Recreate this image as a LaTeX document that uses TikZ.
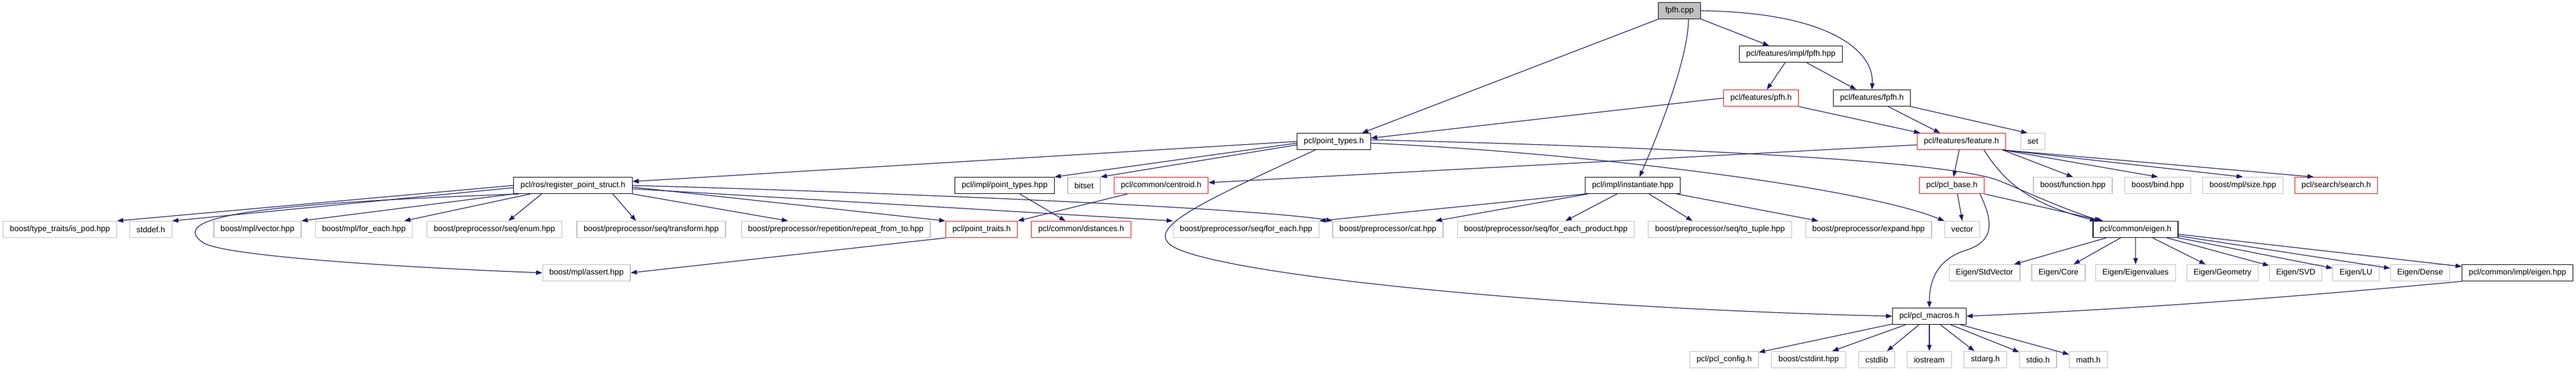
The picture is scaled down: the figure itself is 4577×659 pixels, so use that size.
\documentclass[tikz,border=0pt]{standalone}
\usepackage{fontspec}
\setmainfont{Liberation Sans}
\usetikzlibrary{arrows.meta}
\definecolor{midnight}{HTML}{191970}
\definecolor{grey75}{HTML}{BFBFBF}
\begin{document}
\begin{tikzpicture}[x=1pt,y=-1pt, font=\fontsize{14.2}{16}\selectfont, line join=round,
		box/.style={draw, fill=white, line width=1.2pt, inner xsep=12pt, inner ysep=0pt, minimum height=29pt},
		doc/.style={box, draw=black},
		ext/.style={box, draw=grey75},
		trunc/.style={box, draw=red},
		dep/.style={draw=midnight, line width=1.2pt, -{Triangle[length=11pt,width=8pt]}}]
		\useasboundingbox (0,0) rectangle (4577,659);
		% top rows
		\node (root) at (2984,19) [box, fill=grey75, draw=black] {fpfh.cpp};
		\node (fpfhimpl) at (3182,96) [doc] {pcl/features/impl/fpfh.hpp};
		\node (pfh) at (3129,174) [trunc] {pcl/features/pfh.h};
		\node (fpfh) at (3326,174) [doc] {pcl/features/fpfh.h};
		\node (pt) at (2370,251) [doc] {pcl/point\_types.h};
		\node (feature) at (3485,251) [trunc] {pcl/features/feature.h};
		\node (set) at (3612,251) [ext] {set};
		% row 4
		\node (reg) at (1018,329) [doc] {pcl/ros/register\_point\_struct.h};
		\node (ptimpl) at (1785,329) [doc] {pcl/impl/point\_types.hpp};
		\node (bitset) at (1926,329) [ext] {bitset};
		\node (centroid) at (2063,329) [trunc] {pcl/common/centroid.h};
		\node (inst) at (2901,329) [doc] {pcl/impl/instantiate.hpp};
		\node (base) at (3468,329) [trunc] {pcl/pcl\_base.h};
		\node (function) at (3683,329) [ext] {boost/function.hpp};
		\node (bind) at (3834,329) [ext] {boost/bind.hpp};
		\node (mplsize) at (3985,329) [ext] {boost/mpl/size.hpp};
		\node (search) at (4151,329) [trunc] {pcl/search/search.h};
		% row 5
		\node (ispod) at (106.5,407) [ext] {boost/type\_traits/is\_pod.hpp};
		\node (stddef) at (268,407) [ext] {stddef.h};
		\node (mplvec) at (457.5,407) [ext] {boost/mpl/vector.hpp};
		\node (mplfe) at (646.5,407) [ext] {boost/mpl/for\_each.hpp};
		\node (seqenum) at (878.5,407) [ext] {boost/preprocessor/seq/enum.hpp};
		\node (seqtrans) at (1157,407) [ext] {boost/preprocessor/seq/transform.hpp};
		\node (repeat) at (1485,407) [ext] {boost/preprocessor/repetition/repeat\_from\_to.hpp};
		\node (traits) at (1744,407) [trunc] {pcl/point\_traits.h};
		\node (dist) at (1921,407) [trunc] {pcl/common/distances.h};
		\node (seqfe) at (2214,407) [ext] {boost/preprocessor/seq/for\_each.hpp};
		\node (ppcat) at (2466,407) [ext] {boost/preprocessor/cat.hpp};
		\node (product) at (2746.5,407) [ext] {boost/preprocessor/seq/for\_each\_product.hpp};
		\node (totuple) at (3056,407) [ext] {boost/preprocessor/seq/to\_tuple.hpp};
		\node (expand) at (3320,407) [ext] {boost/preprocessor/expand.hpp};
		\node (vector) at (3486.5,407) [ext] {vector};
		\node (eigen) at (3794.5,407) [doc] {pcl/common/eigen.h};
		% row 6
		\node (mplassert) at (1042,484) [ext] {boost/mpl/assert.hpp};
		\node (stdvec) at (3526,484) [ext] {Eigen/StdVector};
		\node (core) at (3657.5,484) [ext] {Eigen/Core};
		\node (eigval) at (3794.5,484) [ext] {Eigen/Eigenvalues};
		\node (geom) at (3949,484) [ext] {Eigen/Geometry};
		\node (svd) at (4079,484) [ext] {Eigen/SVD};
		\node (lu) at (4186,484) [ext] {Eigen/LU};
		\node (dense) at (4300,484) [ext] {Eigen/Dense};
		\node (eigimpl) at (4473,484) [doc] {pcl/common/impl/eigen.hpp};
		% bottom rows
		\node (macros) at (3428,561) [doc] {pcl/pcl\_macros.h};
		\node (config) at (3063.5,638) [ext] {pcl/pcl\_config.h};
		\node (cstdint) at (3213.5,638) [ext] {boost/cstdint.hpp};
		\node (cstdlib) at (3334.5,638) [ext] {cstdlib};
		\node (iostream) at (3428,638) [ext] {iostream};
		\node (stdarg) at (3527.5,638) [ext] {stdarg.h};
		\node (stdio) at (3621,638) [ext] {stdio.h};
		\node (mathh) at (3710.5,638) [ext] {math.h};
		% fpfh.cpp
		\draw[dep] (root) -- (fpfhimpl);
		\draw[dep] (root.east) .. controls (3250,22) and (3330,90) .. (fpfh.north);
		\draw[dep] (root.south west) -- ([xshift=50pt]pt.north);
		\draw[dep] ([xshift=16pt]root.south) .. controls (3000,100) and (2950,230) .. ([xshift=12pt]inst.north);
		\draw[dep] (fpfhimpl) -- (pfh);
		\draw[dep] (fpfhimpl) -- (fpfh);
		\draw[dep] (pfh.west) -- ([yshift=6pt]pt.east);
		\draw[dep] (pfh.south east) -- ([xshift=6pt]feature.north west);
		\draw[dep] ([xshift=29pt]fpfh.south) -- ([xshift=-38pt]feature.north);
		\draw[dep] (fpfh.south east) -- ([xshift=-10pt]set.north);
		% point_types.h
		\draw[dep] (pt.west) -- ([yshift=7pt]reg.east);
		\draw[dep] ([yshift=-3pt]pt.west) -- (ptimpl.north east);
		\draw[dep] ([yshift=-6pt]pt.west) -- (bitset.north east);
		\draw[dep] ([xshift=-33pt]pt.south) .. controls (2130,360) and (2050,400) .. (2075,430) .. controls (2110,480) and (2700,545) .. (macros.west);
		\draw[dep] ([yshift=-3pt]pt.east) .. controls (2800,270) and (3300,330) .. (vector.north west);
		\draw[dep] ([yshift=3pt]pt.east) .. controls (3000,262) and (3440,285) .. (3545,318) .. controls (3585,333) and (3650,365) .. ([xshift=-62pt]eigen.north);
		% feature.h
		\draw[dep] ([yshift=-6pt]feature.west) -- ([yshift=5pt]centroid.east);
		\draw[dep] ([xshift=-4pt]feature.south) -- ([xshift=3pt]base.north);
		\draw[dep] ([xshift=40pt]feature.south) .. controls (3560,320) and (3600,360) .. ([xshift=-70pt]eigen.north);
		\draw[dep] ([xshift=-6pt]feature.south east) -- (function.north);
		\draw[dep] ([xshift=-6pt]feature.south east) -- (bind.north);
		\draw[dep] ([xshift=-6pt]feature.south east) -- (mplsize.north);
		\draw[dep] ([xshift=-6pt]feature.south east) -- ([xshift=-40pt]search.north);
		% pcl_base.h
		\draw[dep] ([xshift=10pt]base.south) -- (vector.north);
		\draw[dep] (base.south east) -- ([xshift=-58pt]eigen.north);
		\draw[dep] ([xshift=50pt]base.south) .. controls (3545,400) and (3540,430) .. (3490,445) .. controls (3440,462) and (3428,500) .. (macros.north);
		% register_point_struct.h
		\draw[dep] (reg.west) -- (ispod.north east);
		\draw[dep] ([yshift=-4pt]reg.west) -- (stddef.north east);
		\draw[dep] (reg.south west) -- (mplvec.north east);
		\draw[dep] ([xshift=30pt]reg.south west) -- ([xshift=-15pt]mplfe.north east);
		\draw[dep] ([xshift=50pt]reg.south west) -- ([xshift=25pt]seqenum.north);
		\draw[dep] ([xshift=-35pt]reg.south east) -- ([xshift=-27pt]seqtrans.north);
		\draw[dep] (reg.south east) -- ([xshift=-85pt]repeat.north);
		\draw[dep] ([yshift=-3pt]reg.east) -- (traits.north west);
		\draw[dep] ([yshift=-6pt]reg.east) -- (seqfe.north west);
		\draw[dep] (reg.east) .. controls (1700,345) and (2250,372) .. (ppcat.north west);
		\draw[dep] ([xshift=10pt]reg.south west) .. controls (500,360) and (290,380) .. (360,430) .. controls (400,458) and (800,478) .. (mplassert.west);
		% second level
		\draw[dep] (traits.south west) -- (mplassert.east);
		\draw[dep] ([xshift=27pt]ptimpl.south) -- ([xshift=-28pt]dist.north);
		\draw[dep] ([xshift=-60pt]centroid.south) -- (traits.north east);
		% instantiate.hpp
		\draw[dep] (inst.south west) -- (seqfe.north east);
		\draw[dep] ([xshift=5pt]inst.south west) -- ([xshift=-14pt]ppcat.north east);
		\draw[dep] ([xshift=-28pt]inst.south) -- ([xshift=35pt]product.north);
		\draw[dep] ([xshift=29pt]inst.south) -- ([xshift=-49pt]totuple.north);
		\draw[dep] ([xshift=78pt]inst.south) -- ([xshift=23pt]expand.north west);
		% eigen.h
		\foreach \n in {stdvec,core,eigval,geom,svd,lu,dense,eigimpl}
			\draw[dep] (eigen) -- (\n);
		\draw[dep] (eigimpl.south west) .. controls (4100,525) and (3800,548) .. (macros.east);
		% pcl_macros.h
		\foreach \n in {config,cstdint,cstdlib,iostream,stdarg,stdio,mathh}
			\draw[dep] (macros) -- (\n);
	\end{tikzpicture}
\end{document}
